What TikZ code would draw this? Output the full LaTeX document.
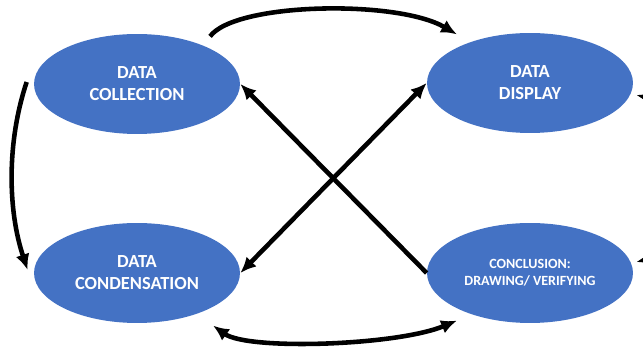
\documentclass[tikz,border=0pt]{standalone}
\usepackage{fontspec}
\setmainfont{Carlito}
\usetikzlibrary{arrows.meta,shapes.geometric}
\definecolor{stageblue}{HTML}{4472C4}

\begin{document}
\begin{tikzpicture}[x=0.02cm, y=0.02cm, >={Latex[length=9pt,width=8pt]}]
\tikzstyle{every node} = [ellipse, fill=stageblue, text=white, align=center, inner sep=0pt,
  minimum width=4.12cm, minimum height=2cm, font=\bfseries\fontsize{10.5}{12.5}\selectfont]
\tikzstyle{link} = [line width=2.6pt]
\useasboundingbox (0,0) rectangle (643,348);
\clip (0,0) rectangle (643,348);

\node (collect) at (137,264) {DATA\\COLLECTION};
\node (display) at (530,265) {DATA\\DISPLAY};
\node (condense) at (137,75) {DATA\\CONDENSATION};
\node[font=\bfseries\fontsize{8}{9.5}\selectfont] (conclude) at (530,75) {CONCLUSION:\\DRAWING/ VERIFYING};

% outer loop
\draw [link,->] ([shift={(0,12)}]collect.north east) .. controls +(25,34) and +(-60,35) .. ([shift={(0,13)}]display.north west);
\draw [link,->] ([shift={(-7,2)}]collect.west) .. controls +(-20,-60) and +(-20,60) .. ([shift={(-6,3)}]condense.west);
\draw [link,<->] ([shift={(3,-17)}]condense.south east) .. controls +(35,-25) and +(-60,-25) .. ([shift={(0,-12)}]conclude.south west);
\draw [link,<->] ([shift={(3,-12)}]display.east) .. controls +(40,-10) and +(40,10) .. ([shift={(3,11)}]conclude.east);

% diagonals
\draw [link,->] (conclude.west) -- (collect.east);
\draw [link,<->] (condense.east) -- (display.west);
\end{tikzpicture}
\end{document}
